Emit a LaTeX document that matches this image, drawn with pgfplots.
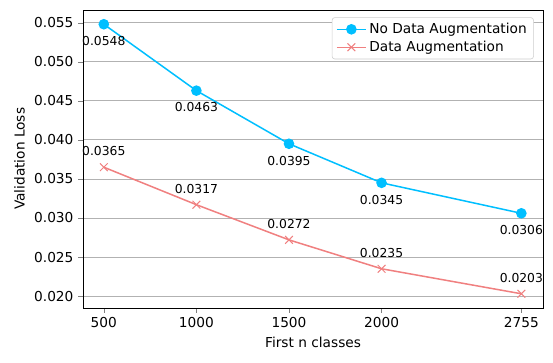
\documentclass[border=0pt]{standalone}
\usepackage{fontspec}
\setmainfont{DejaVu Sans}
\usepackage{pgfplots}
\pgfplotsset{compat=1.18}
\definecolor{skyblue}{RGB}{0,191,255}
\definecolor{coral}{RGB}{240,128,128}
\pgfplotsset{longleg/.style={legend image code/.code={\draw[mark repeat=2, mark phase=2] plot coordinates {(0cm,0cm) (0.37cm,0cm) (0.74cm,0cm)};}}}
\begin{document}
\begin{tikzpicture}
\begin{axis}[
  scale only axis,
  width=335.5pt, height=217.4pt,
  xmin=388, xmax=2872,
  ymin=0.01849, ymax=0.05664,
  xtick={500,1000,1500,2000,2755},
  ytick={0.020,0.025,0.030,0.035,0.040,0.045,0.050,0.055},
  /pgf/number format/assume math mode=true,
  xticklabel style={/pgf/number format/.cd, fixed, 1000 sep={}},
  yticklabel style={/pgf/number format/.cd, fixed, fixed zerofill, precision=3},
  scaled y ticks=false,
  tick label style={font=\fontsize{10}{12}\selectfont},
  label style={font=\fontsize{10}{12}\selectfont},
  xlabel={First n classes},
  ylabel={Validation Loss},
  ymajorgrids,
  grid style={color=black!30, line width=0.6pt},
  tick align=outside,
  xtick pos=bottom, ytick pos=left,
  major tick length=3.5pt,
  legend style={at={(0.98,0.975)}, anchor=north east, font=\fontsize{10}{12}\selectfont,
    draw=black!20, rounded corners=2pt, cells={anchor=west}, row sep=0pt},
  legend cell align=left,
  nodes near coords={\pgfmathprintnumber[fixed, fixed zerofill, precision=4, assume math mode=true]{\pgfplotspointmeta}},
  point meta=y,
]
\addplot[color=skyblue, line width=1.1pt, mark=*, mark size=3.3pt, longleg,
  every node near coord/.style={font=\fontsize{9}{10}\selectfont, color=black, anchor=north, yshift=-5pt}]
  coordinates {(500,0.0548) (1000,0.0463) (1500,0.0395) (2000,0.0345) (2755,0.0306)};
\addlegendentry{No Data Augmentation}
\addplot[color=coral, line width=1.1pt, mark=x, mark size=4pt, mark options={line width=0.7pt}, longleg,
  every node near coord/.style={font=\fontsize{9}{10}\selectfont, color=black, anchor=south, yshift=4.5pt}]
  coordinates {(500,0.0365) (1000,0.0317) (1500,0.0272) (2000,0.0235) (2755,0.0203)};
\addlegendentry{Data Augmentation}
\end{axis}
\path ([shift={(-7pt,-7pt)}]current bounding box.south west) ([shift={(4pt,7pt)}]current bounding box.north east);
\end{tikzpicture}
\end{document}
